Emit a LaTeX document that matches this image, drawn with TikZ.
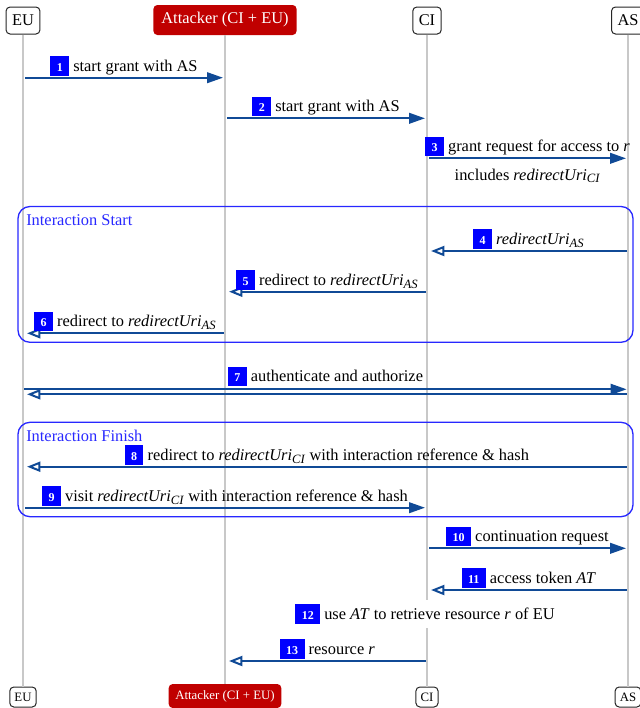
\documentclass[tikz,border=0pt]{standalone}
\usepackage{fontspec}
\setmainfont{Liberation Serif}
\usetikzlibrary{arrows.meta}
\definecolor{msgblue}{RGB}{16,74,150}
\definecolor{tagblue}{RGB}{0,0,255}
\definecolor{groupblue}{RGB}{40,40,255}
\definecolor{attackred}{RGB}{192,0,0}
\definecolor{lifegray}{RGB}{200,200,200}
% numbered step tag: white bold number on a blue block
\newcommand\numtag[1]{{\setlength{\fboxsep}{0pt}\colorbox{tagblue}{\hspace{4.8pt}\rule[-3.5pt]{0pt}{14.8pt}\textcolor{white}{\fontsize{9}{10}\selectfont\bfseries #1}\hspace{4.8pt}}}}
% italic identifier with an italic subscript
\newcommand\ruri[1]{$\textit{redirectUri}_{\mbox{\fontsize{9.5}{10}\selectfont\itshape #1}}$}
\begin{document}
\begin{tikzpicture}[x=0.75pt,y=-0.75pt,font=\fontsize{12.3}{14}\selectfont,
  actor/.style={draw=black!85,line width=0.75pt,rounded corners=3pt,inner xsep=4.5pt,inner ysep=0pt,minimum height=20.25pt,fill=white},
  attacker/.style={fill=attackred,text=white,rounded corners=3pt,inner xsep=6pt,inner ysep=0pt,minimum height=22.5pt},
  actorsmall/.style={actor,font=\fontsize{9.6}{11}\selectfont,minimum height=15pt,inner xsep=3.5pt},
  attackersmall/.style={attacker,font=\fontsize{9.6}{11}\selectfont,minimum height=18pt,inner xsep=5pt},
  lifeline/.style={draw=lifegray,line width=1pt},
  msg/.style={draw=msgblue,line width=1.5pt,-{Triangle[length=12pt,width=8pt]}},
  ret/.style={draw=msgblue,line width=1.5pt,-{Triangle[open,length=10pt,width=7.5pt,fill=white]}},
  lbl/.style={anchor=base,inner sep=0pt,yshift=4.9pt},
  group/.style={draw=groupblue,line width=1pt,rounded corners=9pt},
  grouptitle/.style={text=groupblue,anchor=base west,inner sep=0pt}]
\useasboundingbox (0,0) rectangle (640,708);

% participants
\node[actor] (euT) at (23,20.5) {EU};
\node[attacker] (atkT) at (225,20) {Attacker (CI + EU)};
\node[actor] (ciT) at (427,20.5) {CI};
\node[actor] (asT) at (628,20.5) {AS};
\node[actorsmall] (euB) at (23,697) {EU};
\node[attackersmall] (atkB) at (225,696) {Attacker (CI + EU)};
\node[actorsmall] (ciB) at (427,697) {CI};
\node[actorsmall] (asB) at (628,697) {AS};

% lifelines
\draw[lifeline] (euT) -- (euB);
\draw[lifeline] (atkT) -- (atkB);
\draw[lifeline] (ciT) -- (ciB);
\draw[lifeline] (asT) -- (asB);

% interaction groups
\draw[group] (18,206.5) rectangle (633,342.3);
\node[grouptitle] (gStart) at (26,225) {Interaction Start};
\draw[group] (18,422.3) rectangle (633,516.7);
\node[grouptitle] (gFinish) at (26,441) {Interaction Finish};

% message rows
\coordinate (y1) at (0,77.7);
\coordinate (y2) at (0,118.3);
\coordinate (y3) at (0,158.3);
\coordinate (y4) at (0,251);
\coordinate (y5) at (0,291.7);
\coordinate (y6) at (0,333.3);
\coordinate (y7a) at (0,389.3);
\coordinate (y7b) at (0,394.3);
\coordinate (y8) at (0,466.7);
\coordinate (y9) at (0,507.7);
\coordinate (y10) at (0,548.3);
\coordinate (y11) at (0,590);
\coordinate (y13) at (0,661);

\draw[msg] ([xshift=1.5pt]euT.south |- y1) -- ([xshift=-1.5pt]atkT.south |- y1)
  node[lbl,midway] (l1) {\numtag{1} start grant with AS};
\draw[msg] ([xshift=1.5pt]atkT.south |- y2) -- ([xshift=-1.5pt]ciT.south |- y2)
  node[lbl,midway] (l2) {\numtag{2} start grant with AS};
\draw[msg] ([xshift=1.5pt]ciT.south |- y3) -- ([xshift=-1.5pt]asT.south |- y3)
  node[lbl,midway] (l3) {\numtag{3} grant request for access to \textit{r}}
  node[anchor=base,inner sep=0pt,midway,yshift=-16.3pt] (l3b) {includes \ruri{CI}};
\draw[ret] ([xshift=-1pt]asT.south |- y4) -- ([xshift=3pt]ciT.south |- y4)
  node[lbl,midway] (l4) {\numtag{4} \ruri{AS}};
\draw[ret] ([xshift=-1pt]ciT.south |- y5) -- ([xshift=3pt]atkT.south |- y5)
  node[lbl,midway] (l5) {\numtag{5} redirect to \ruri{AS}};
\draw[ret] ([xshift=-1pt]atkT.south |- y6) -- ([xshift=3pt]euT.south |- y6)
  node[lbl,midway] (l6) {\numtag{6} redirect to \ruri{AS}};
\draw[msg] ([xshift=1pt]euT.south |- y7a) -- ([xshift=-1pt]asT.south |- y7a)
  node[lbl,midway,yshift=0.8pt] (l7) {\numtag{7} authenticate and authorize};
\draw[ret] ([xshift=-1pt]asT.south |- y7b) -- ([xshift=3pt]euT.south |- y7b);
\draw[ret] ([xshift=-1pt]asT.south |- y8) -- ([xshift=3pt]euT.south |- y8)
  node[lbl,midway] (l8) {\numtag{8} redirect to \ruri{CI} with interaction reference \& hash};
\draw[msg] ([xshift=1.5pt]euT.south |- y9) -- ([xshift=-1.5pt]ciT.south |- y9)
  node[lbl,midway] (l9) {\numtag{9} visit \ruri{CI} with interaction reference \& hash};
\draw[msg] ([xshift=1.5pt]ciT.south |- y10) -- ([xshift=-1.5pt]asT.south |- y10)
  node[lbl,midway] (l10) {\numtag{10} continuation request};
\draw[ret] ([xshift=-1pt]asT.south |- y11) -- ([xshift=3pt]ciT.south |- y11)
  node[lbl,midway] (l11) {\numtag{11} access token \textit{AT}};
\node[anchor=base,fill=white,inner xsep=2pt,inner ysep=3pt] (l12) at (425,619.3)
  {\numtag{12} use \textit{AT} to retrieve resource \textit{r} of EU};
\draw[ret] ([xshift=-1pt]ciT.south |- y13) -- ([xshift=3pt]atkT.south |- y13)
  node[lbl,midway] (l13) {\numtag{13} resource \textit{r}};
\end{tikzpicture}
\end{document}
